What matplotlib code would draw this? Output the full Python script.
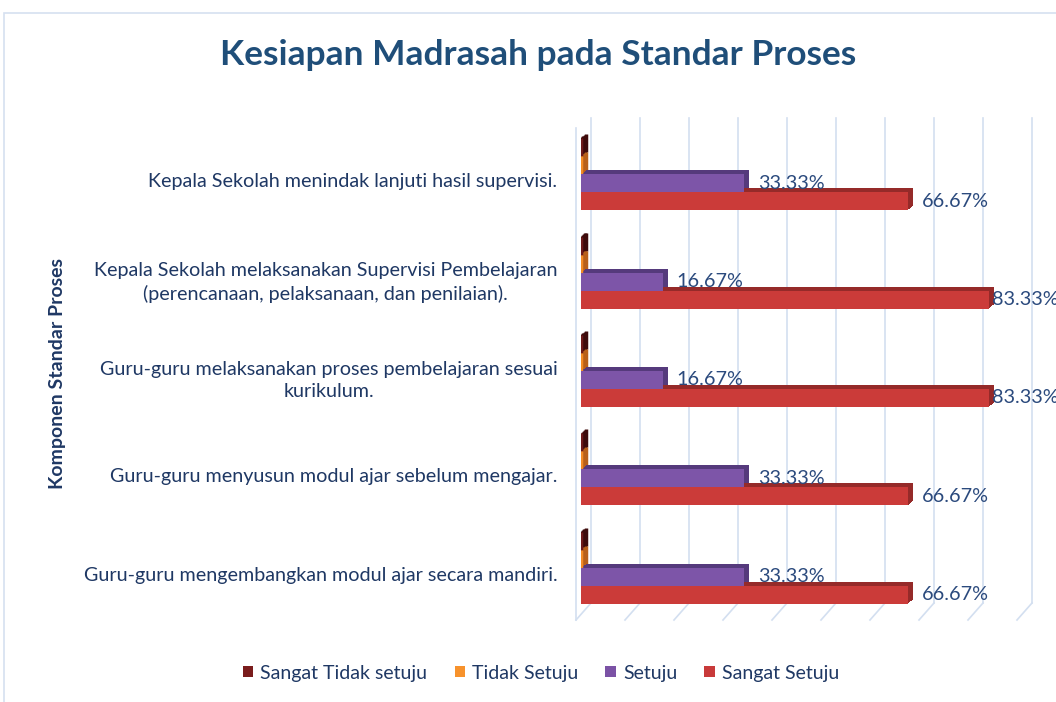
import numpy as np
import matplotlib
matplotlib.use("Agg")
import matplotlib.pyplot as plt
from matplotlib.patches import Patch, Rectangle
from matplotlib.transforms import ScaledTranslation

plt.rcParams['font.family'] = ['Lato', 'DejaVu Sans']

# ---------------- data ----------------
title = "Kesiapan Madrasah pada Standar Proses"
y_title = "Komponen Standar Proses"
categories = [
    "Kepala Sekolah menindak lanjuti hasil supervisi.",
    "Kepala Sekolah melaksanakan Supervisi Pembelajaran\n(perencanaan, pelaksanaan, dan penilaian).",
    "Guru-guru melaksanakan proses pembelajaran sesuai\nkurikulum.",
    "Guru-guru menyusun modul ajar sebelum mengajar.",
    "Guru-guru mengembangkan modul ajar secara mandiri.",
]
series_names = ["Sangat Tidak setuju", "Tidak Setuju", "Setuju", "Sangat Setuju"]
sangat_tidak_setuju = [0, 0, 0, 0, 0]
tidak_setuju = [0, 0, 0, 0, 0]
setuju = [33.33, 16.67, 16.67, 33.33, 33.33]
sangat_setuju = [66.67, 83.33, 83.33, 66.67, 66.67]
series_values = [sangat_tidak_setuju, tidak_setuju, setuju, sangat_setuju]

# ---------------- style ----------------
front_colors = ["#6E1A1A", "#F28A24", "#7D55A8", "#CB3B39"]
side_colors = ["#3E0B0B", "#B8601A", "#553A7C", "#952A29"]
legend_colors = ["#7A1C1C", "#F7922C", "#7B52A5", "#C83A3A"]
label_color = "#1F3864"
value_color = "#2B4A7D"
title_color = "#1F4E79"
grid_color = "#D3DFF0"

W, H = 1056, 702
fig = plt.figure(figsize=(W / 100, H / 100), dpi=100)
fig.patch.set_facecolor("white")

x_max = 92
ax_left_px, ax_right_px = 581, 581 + 92 * 4.9
ax_top_px, ax_bot_px = 118, 620
ax = fig.add_axes([ax_left_px / W, 1 - ax_bot_px / H,
                   (ax_right_px - ax_left_px) / W, (ax_bot_px - ax_top_px) / H])
ax.set_xlim(0, x_max)
ax.set_ylim(4.53, -0.57)
for s in ax.spines.values():
    s.set_visible(False)
ax.set_xticks([])

# 3D-like walls / gridlines
px_per_x = (ax_right_px - ax_left_px) / x_max
ax_h_px = ax_bot_px - ax_top_px
back_dx = 10 / px_per_x
front_dx = -5 / px_per_x
floor_rise = 17 / ax_h_px
xt = ax.get_xaxis_transform()
for gx in np.arange(0, 91, 10):
    ax.plot([gx + back_dx, gx + back_dx], [floor_rise, 1.0], color=grid_color,
            lw=1.2, transform=xt, zorder=1, clip_on=False)
    ax.plot([gx + front_dx, gx + back_dx], [0, floor_rise], color=grid_color,
            lw=1.2, transform=xt, zorder=1, clip_on=False)
ax.plot([front_dx, front_dx], [0, 1 - 10 / ax_h_px], color=grid_color, lw=1.2,
        transform=xt, zorder=1, clip_on=False)

# bars
y = np.arange(len(categories))
h = 0.183
offsets = [-1.5 * h, -0.5 * h, 0.5 * h, 1.5 * h]
depth_px = 5
for vals, off, fc, sc in zip(series_values, offsets, front_colors, side_colors):
    vals = np.array(vals)
    zero = vals == 0
    for k in range(1, depth_px + 1):
        tr = ax.transData + ScaledTranslation(k / 100, 0.8 * k / 100, fig.dpi_scale_trans)
        ax.barh(y + off, vals, height=h, color=sc, transform=tr, zorder=2,
                edgecolor=[sc if z else "none" for z in zero], linewidth=2.5)
for vals, off, fc, sc in zip(series_values, offsets, front_colors, side_colors):
    vals = np.array(vals)
    zero = vals == 0
    ax.barh(y + off, vals, height=h, color=fc, zorder=3,
            edgecolor=[fc if z else "none" for z in zero], linewidth=2.5)

# data labels (non-zero series only)
for vals, off in zip(series_values[2:], offsets[2:]):
    for yi, v in zip(y, vals):
        dx = 3 if v > 80 else 14
        ax.annotate(f"{v:.2f}%", xy=(v, yi + off), xytext=(dx, 0),
                    textcoords="offset pixels", ha="left", va="center",
                    fontsize=14.3, color=value_color, zorder=5, annotation_clip=False)

# category labels
ax.set_yticks(y + 0.06)
ax.set_yticklabels(categories, fontsize=14.2, color=label_color, linespacing=1.35)
ax.tick_params(axis="y", length=0, pad=17)
for t in ax.get_yticklabels():
    t.set_multialignment("center")

# titles
fig.text(538 / W, 1 - 55 / H, title, ha="center", va="center", fontsize=25.4,
         fontweight="bold", color=title_color)
fig.text(57 / W, 1 - 374 / H, y_title, ha="center", va="center", rotation=90,
         fontsize=14, fontweight="bold", color=label_color)

# legend
handles = [Patch(facecolor=c, edgecolor="none") for c in legend_colors]
fig.legend(handles, series_names, loc="center", bbox_to_anchor=(541 / W, 1 - 673 / H),
           ncol=4, frameon=False, fontsize=14, labelcolor=label_color,
           handlelength=0.55, handleheight=0.55, handletextpad=0.35, columnspacing=1.4)

# chart border
fig.add_artist(Rectangle((4 / W, -0.1), 1.2, 1.1 - 13 / H, transform=fig.transFigure,
                         facecolor="none", edgecolor="#D6E0F0", lw=1.2))

fig.savefig("out.png", dpi=100, facecolor="white")
